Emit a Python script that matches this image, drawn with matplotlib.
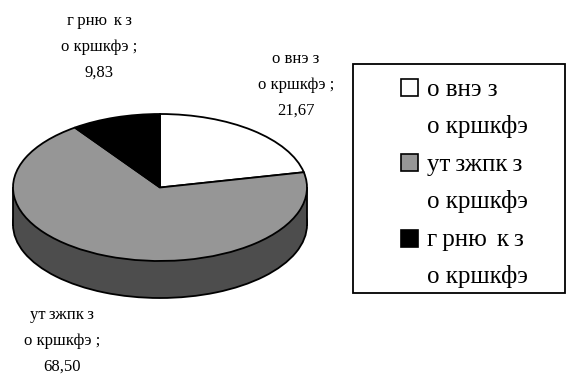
import matplotlib
matplotlib.use('Agg')
import matplotlib.pyplot as plt
from matplotlib.patches import Rectangle

W, H = 566, 374

names = ['о внэ з', 'ут\u2009зжпк\u2009з', 'г\u2009рню\u2009\u2009к\u2009з']
second_line = 'о кршкфэ'
values = [21.67, 68.50, 9.83]
colors = ['#ffffff', '#969696', '#000000']
wall_color = '#4d4d4d'

plt.rcParams['font.family'] = ['Liberation Serif', 'DejaVu Serif']

fig = plt.figure(figsize=(W / 100, H / 100), dpi=100)
ax = fig.add_axes([0, 0, 1, 1])

# centre of the top face and its radii, in pixels
cx, cy, rx, ry = 160, 187.5, 147, 73.5
depth = 37 / ry

# side wall: a dark disc lower down plus a band joining it to the top face
ax.pie([1], colors=[wall_color], center=(0, -depth), startangle=90,
       wedgeprops={'edgecolor': 'black', 'linewidth': 1.3})
ax.add_patch(Rectangle((-1, -depth), 2, depth, facecolor=wall_color, edgecolor='none', zorder=2))
ax.plot([-1, -1], [0, -depth], color='black', lw=1.3, zorder=3)
ax.plot([1, 1], [0, -depth], color='black', lw=1.3, zorder=3)

wedges, _ = ax.pie(values, colors=colors, startangle=90, counterclock=False,
                   wedgeprops={'edgecolor': 'black', 'linewidth': 1.3, 'zorder': 4})

# squash the disc into an ellipse by stretching the limits
ax.set_aspect('auto')
ax.set_xlim(-cx / rx, (W - cx) / rx)
ax.set_ylim(-(H - cy) / ry, cy / ry)
ax.axis('off')

# second axes in pixel coordinates for the labels and the key
over = fig.add_axes([0, 0, 1, 1])
over.set_xlim(0, W)
over.set_ylim(H, 0)
over.axis('off')
over.patch.set_alpha(0)

label_pos = [(296, 85), (62, 341), (99, 47)]
for name, val, (px, py) in zip(names, values, label_pos):
    txt = '%s\n%s ;\n%s' % (name, second_line, ('%.2f' % val).replace('.', ','))
    over.text(px, py, txt, ha='center', va='center', fontsize=12,
              linespacing=1.8, color='black')

# hand built key, the labels need a wide line gap
over.add_patch(Rectangle((353, 64), 212, 229, facecolor='white', edgecolor='black', lw=1.3))
swatch_y = [87.5, 162, 238.5]
key_y = [90, 165, 240]
for name, col, sy, ky in zip(names, colors, swatch_y, key_y):
    over.add_patch(Rectangle((400.5, sy - 8.5), 17, 17, facecolor=col, edgecolor='black', lw=1.2))
    over.text(427, ky, name, ha='left', va='center', fontsize=18, color='black')
    over.text(427, ky + 36, second_line, ha='left', va='center', fontsize=18, color='black')

fig.savefig('out.png', dpi=100)
